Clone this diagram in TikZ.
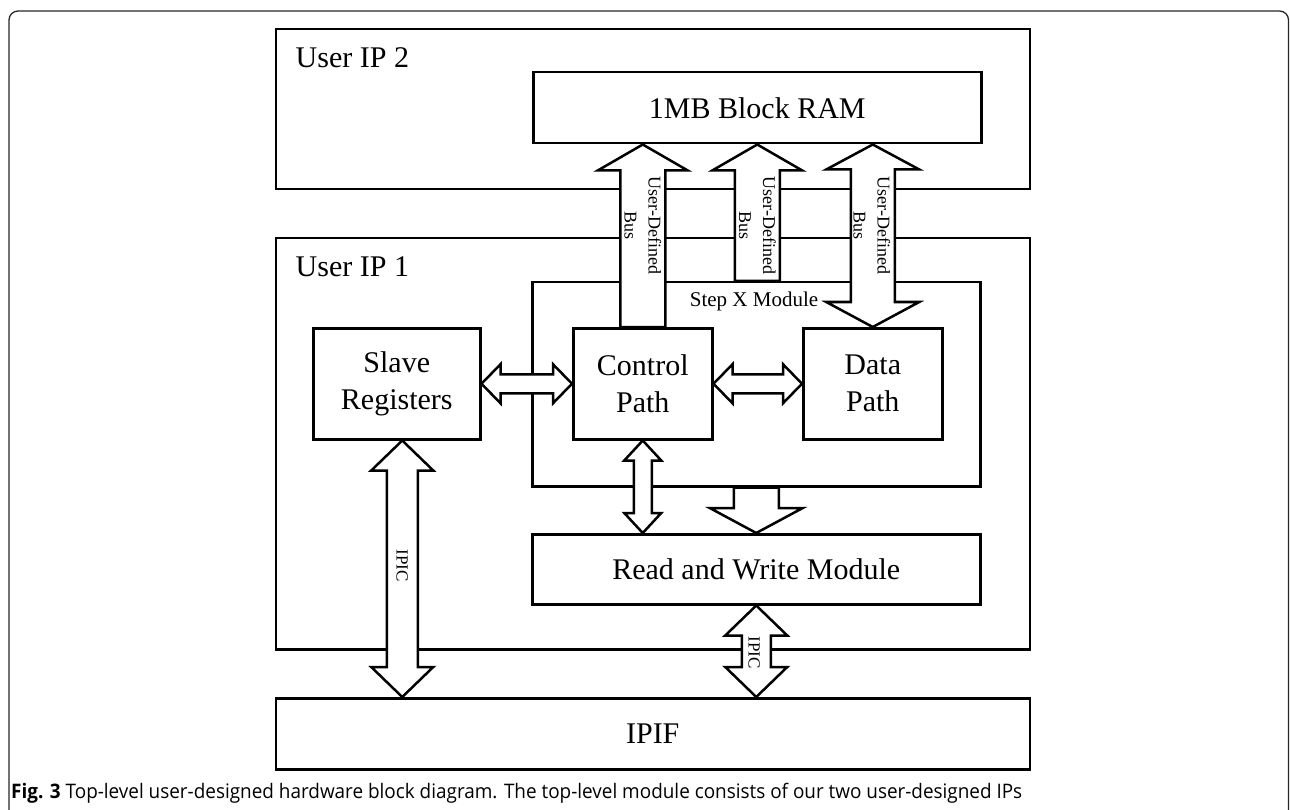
\documentclass[tikz,border=0pt]{standalone}
\usepackage{fontspec}
\setmainfont{Liberation Serif}
\newfontfamily\capfont{Open Sans}
\usetikzlibrary{calc}
\tikzset{
  box/.style={draw, line width=2.5pt, inner sep=0pt, anchor=north west},
  barrow/.style={draw, fill=white, line width=2.5pt, line join=miter},
  big/.style={font=\fontsize{30}{37}\selectfont, align=center},
  title/.style={anchor=base west, inner sep=0pt, font=\fontsize{30}{36}\selectfont},
  buslab/.style={font=\fontsize{18}{24}\selectfont, align=center, rotate=-90, inner sep=0pt},
  ipiclab/.style={font=\fontsize{17}{20}\selectfont, rotate=-90, inner sep=0pt},
  frame/.style={line width=1.3pt, rounded corners=9pt, black!85}
}
% single-headed block arrow: tail, tip, half shaft, half head, head length
\newcommand{\fatone}[5]{%
  \coordinate (qA) at (#1); \coordinate (qB) at (#2);
  \coordinate (qH) at ($(qB)!#5!(qA)$);
  \filldraw[barrow] ($(qA)!#3!90:(qB)$) -- ($(qH)!#3!90:(qB)$) -- ($(qH)!#4!90:(qB)$) -- (qB)
    -- ($(qH)!#4!-90:(qB)$) -- ($(qH)!#3!-90:(qB)$) -- ($(qA)!#3!-90:(qB)$) -- cycle;
}
% double-headed block arrow
\newcommand{\fattwo}[5]{%
  \coordinate (qA) at (#1); \coordinate (qB) at (#2);
  \coordinate (qH) at ($(qA)!#5!(qB)$);
  \coordinate (qK) at ($(qB)!#5!(qA)$);
  \filldraw[barrow] (qA) -- ($(qH)!#4!90:(qB)$) -- ($(qH)!#3!90:(qB)$) -- ($(qK)!#3!90:(qB)$)
    -- ($(qK)!#4!90:(qB)$) -- (qB) -- ($(qK)!#4!-90:(qB)$) -- ($(qK)!#3!-90:(qB)$)
    -- ($(qH)!#3!-90:(qB)$) -- ($(qH)!#4!-90:(qB)$) -- cycle;
}
\begin{document}
\begin{tikzpicture}[x=1pt, y=-1pt]
\useasboundingbox (0,0) rectangle (1290,810);
\draw[frame] (9,11) rectangle (1288.5,860);

% containers
\node[box, minimum width=754pt, minimum height=160pt] (ip2) at (274.5,28) {};
\node[box, minimum width=754pt, minimum height=411pt] (ip1) at (274.5,237) {};
\node[box, minimum width=448pt, minimum height=204pt] (stepx) at (531,281) {};
\node[title] (t2) at ($(ip2.north west)+(21,40)$) {User IP 2};
\node[title] (t1) at ($(ip1.north west)+(21,40)$) {User IP 1};

% blocks
\node[box, big, minimum width=448pt, minimum height=71pt] (ram) at (532,71) {1MB Block RAM};
\node[box, big, minimum width=167pt, minimum height=111pt] (slave) at (312,327) {Slave\\Registers};
\node[box, big, minimum width=139pt, minimum height=111pt] (ctrl) at (572,327) {Control\\Path};
\node[box, big, minimum width=139pt, minimum height=111pt] (data) at (802,327) {Data\\Path};
\node[box, big, minimum width=448pt, minimum height=70pt] (rw) at (531,533) {Read and Write Module};
\node[box, big, minimum width=754pt, minimum height=71pt] (ipif) at (274.5,697) {IPIF};

% block arrows
\fatone{ctrl.north}{ctrl.north |- ram.south}{22.5pt}{45pt}{26pt}
\fatone{ram.south |- stepx.north}{ram.south}{22.5pt}{45pt}{26pt}
\fattwo{data.north |- ram.south}{data.north}{22pt}{46.5pt}{25pt}
\fatone{rw.north |- stepx.south}{rw.north}{22.5pt}{46.5pt}{25pt}
\fattwo{ctrl.south}{ctrl.south |- rw.north}{9pt}{18.5pt}{20pt}
\fattwo{slave.east}{ctrl.west}{9.5pt}{19.5pt}{19pt}
\fattwo{ctrl.east}{data.west}{9.5pt}{19.5pt}{19pt}
\coordinate (s1) at ($(slave.south)+(5.5,0)$);
\coordinate (s2) at (s1 |- ipif.north);
\fattwo{s1}{s2}{15.5pt}{31pt}{30pt}
\fattwo{rw.south}{rw.south |- ipif.north}{14.5pt}{31pt}{30pt}

% labels
\node[font=\fontsize{21}{25}\selectfont] (sx) at ($(stepx.north west)+(223,20)$) {Step X Module};
\node[buslab] (b1) at ($(ctrl.north |- ram.south)+(0,81)$) {User-Defined\\Bus};
\node[buslab] (b2) at ($(ram.south)+(0,81)$) {User-Defined\\Bus};
\node[buslab] (b3) at ($(data.north |- ram.south)+(-1,81)$) {User-Defined\\Bus};
\node[ipiclab] (i1) at ($(s1)+(0,125)$) {IPIC};
\node[ipiclab] (i2) at ($(rw.south)+(-2,47)$) {IPIC};

% caption
\node[anchor=base west, inner sep=0pt] (cap) at (11,798)
  {\resizebox{1011pt}{\height}{\capfont\fontsize{20}{24}\selectfont\textbf{Fig. 3} Top-level user-designed hardware block diagram. The top-level module consists of our two user-designed IPs}};
\end{tikzpicture}
\end{document}
